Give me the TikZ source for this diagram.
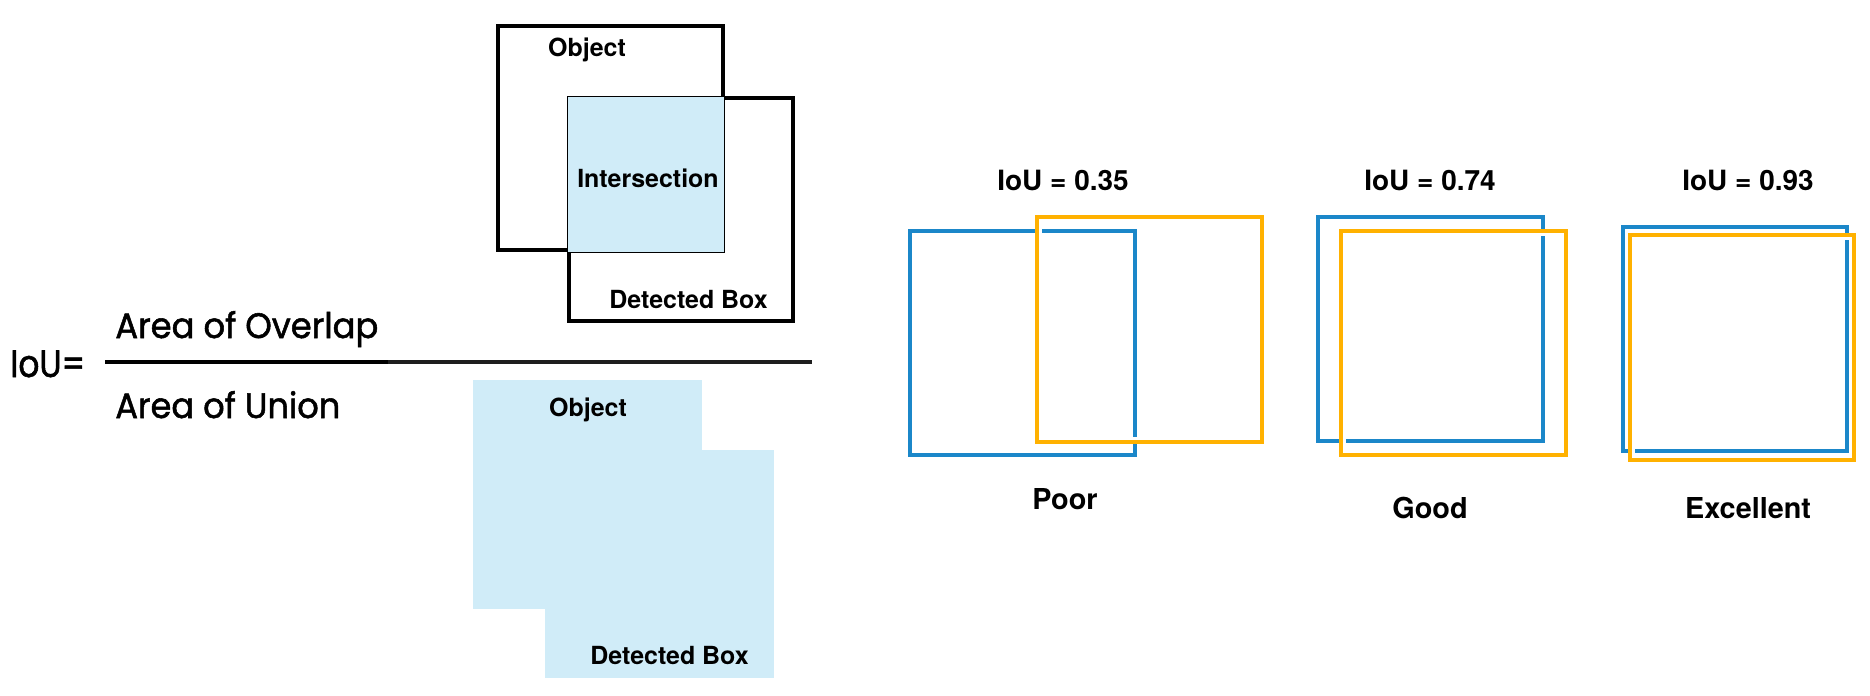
\documentclass[tikz,border=0pt]{standalone}
\usepackage{fontspec}
\setmainfont{TeX Gyre Heros}
\newfontfamily\geo[FakeBold=1.5]{Poppins}
\definecolor{boxblue}{HTML}{1B87C9}
\definecolor{boxorange}{HTML}{FFB100}
\definecolor{lightfill}{HTML}{D0ECF8}
\definecolor{linegray}{HTML}{1E1E1E}
\begin{document}
\begin{tikzpicture}[x=0.02cm,y=-0.02cm,
  lbl/.style={font=\fontsize{14.2}{16}\selectfont\bfseries, inner sep=0, anchor=base},
  big/.style={font=\fontsize{15.9}{18}\selectfont\bfseries, inner sep=0, anchor=base},
  qual/.style={font=\fontsize{16.4}{19}\selectfont\bfseries, inner sep=0, anchor=base},
  thickbox/.style={draw=black, line width=2.27pt},
  bluebox/.style={draw=boxblue, line width=2.27pt},
  orangebox/.style={draw=boxorange, line width=2.27pt},
  halo/.style={draw=white, line width=1.7pt},
  frac/.style={inner sep=0, anchor=base west}]
\useasboundingbox[fill=white] (0,0) rectangle (1870,696);

% upper: intersection
\draw[thickbox] (498,26) rectangle (723,250);
\draw[thickbox] (569,98) rectangle (793,321);
\filldraw[fill=lightfill, draw=black, line width=0.8pt] (567.5,96.5) rectangle (724.5,252.5);
\node[lbl] (obj1) at (587,57) {Object};
\node[lbl] (inter) at (648,187) {Intersection};
\node[lbl] (det1) at (688.5,308) {Detected Box};

% lower: union
\fill[lightfill] (473,380) rectangle (702,609);
\fill[lightfill] (545,450) rectangle (774,678);
\node[lbl] (obj2) at (588,416) {Object};
\node[lbl] (det2) at (669.5,664) {Detected Box};

% fraction
\node[frac] (iou) at (10,377) {\resizebox{1.5cm}{0.53cm}{\geo IoU=}};
\node[frac] (num) at (115,338) {\resizebox{5.26cm}{0.54cm}{\geo Area of Overlap}};
\node[frac] (den) at (115,418) {\resizebox{4.5cm}{0.54cm}{\geo Area of Union}};
\coordinate (fl) at (105,362);
\coordinate (fm) at (388,362);
\coordinate (fr) at (812,362);
\draw[line width=2.0pt, linegray] (fm) -- (fr);
\draw[line width=2.5pt, black] (fl) -- (fm);

% poor
\draw[bluebox] (910,231) rectangle (1135,455);
\draw[orangebox] (1037,217) rectangle (1262,442);
\draw[halo] (1040.5,220.5) rectangle (1258.5,438.5);
% good
\draw[bluebox] (1318,217) rectangle (1543,441);
\draw[orangebox] (1341,231) rectangle (1566,455);
\draw[halo] (1344.5,234.5) rectangle (1562.5,451.5);
% excellent
\draw[bluebox] (1623,227) rectangle (1847,451);
\draw[orangebox] (1630,235) rectangle (1854,460);
\draw[halo] (1633.5,238.5) rectangle (1850.5,456.5);

\node[big] (t1) at (1063,191) {IoU = 0.35};
\node[big] (t2) at (1430,191) {IoU = 0.74};
\node[big] (t3) at (1748,191) {IoU = 0.93};
\node[qual] (q1) at (1065,509) {Poor};
\node[qual] (q2) at (1430,518) {Good};
\node[qual] (q3) at (1748,518) {Excellent};
\end{tikzpicture}
\end{document}
